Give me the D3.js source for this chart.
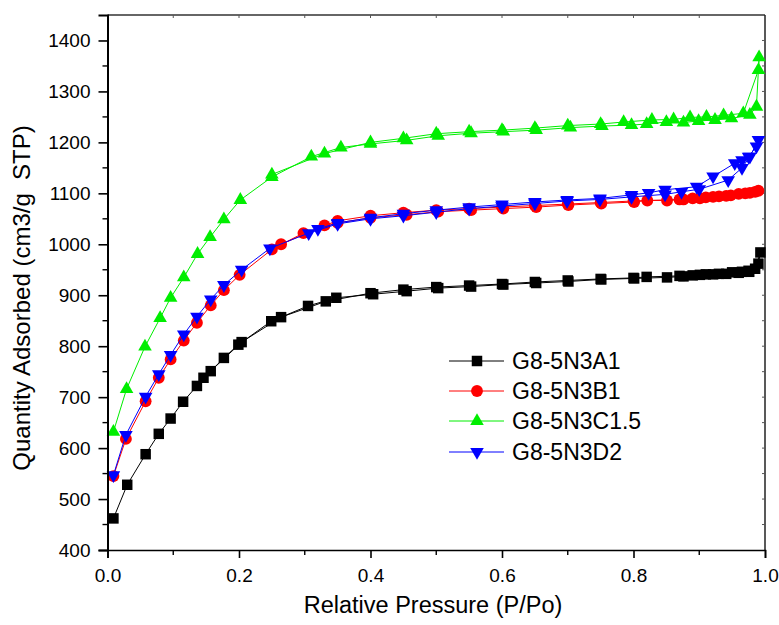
<!DOCTYPE html>
<html>
<head>
<meta charset="utf-8">
<script src="https://cdn.jsdelivr.net/npm/d3@7"></script>
<style>
  body { margin: 0; background: #fff; }
  svg { display: block; font-family: "Liberation Sans", Arial, sans-serif; }
</style>
</head>
<body>
<div id="chart"></div>
<script>
// ---- data ----
// each series: adsorption branch then desorption branch, in measurement order
const seriesNames = ["G8-5N3A1", "G8-5N3B1", "G8-5N3C1.5", "G8-5N3D2"];
const seriesColors = ["#000000", "#ff0000", "#00ee00", "#0000ff"];
const seriesShapes = ["square", "circle", "triangle", "down"];

const pA1 = [0.009,0.030,0.058,0.078,0.096,0.115,0.136,0.157,0.177,0.199,0.249,0.305,0.348,0.404,0.455,0.503,0.553,0.602,0.652,0.701,0.751,0.801,0.851,0.876,0.901,0.921,0.941,0.960,0.976,0.990,
             0.993,0.985,0.975,0.965,0.950,0.930,0.910,0.890,0.870,0.820,0.800,0.750,0.700,0.650,0.600,0.550,0.500,0.450,0.400,0.332,0.264,0.204,0.146];
const vA1 = [462,528,588,628,658,691,722,751,777,803,849,879,895,902,908,914,917,921,924,927,931,933,935,937,940,941,942,944,946,962,
             984,952,948,946,945,942,941,939,938,936,934,932,929,926,922,919,916,911,904,888,857,808,738];

const pB1 = [0.009,0.028,0.058,0.078,0.096,0.116,0.136,0.157,0.177,0.201,0.250,0.298,0.350,0.400,0.455,0.503,0.553,0.602,0.652,0.701,0.751,0.801,0.821,0.851,0.876,0.901,0.921,0.941,0.960,0.977,0.990,
             0.985,0.970,0.948,0.930,0.910,0.890,0.870,0.800,0.750,0.700,0.650,0.600,0.550,0.500,0.450,0.400,0.350,0.330,0.264];
const vB1 = [545,618,692,738,774,811,846,880,910,940,990,1022,1042,1052,1058,1064,1067,1070,1073,1077,1080,1083,1086,1086,1088,1090,1093,1095,1099,1101,1105,
             1103,1100,1096,1094,1092,1090,1088,1085,1082,1079,1076,1073,1070,1067,1062,1056,1046,1037,1000];

const pC15 = [0.009,0.029,0.057,0.080,0.096,0.116,0.137,0.156,0.177,0.202,0.250,0.310,0.355,0.400,0.455,0.503,0.553,0.602,0.652,0.704,0.752,0.797,0.820,0.850,0.876,0.899,0.924,0.949,0.977,0.987,0.991,
              0.990,0.967,0.937,0.911,0.886,0.861,0.828,0.785,0.750,0.700,0.650,0.600,0.550,0.500,0.450,0.400,0.330,0.250];
const vC15 = [632,716,799,855,895,935,981,1014,1049,1087,1132,1172,1190,1197,1204,1213,1218,1221,1224,1229,1232,1234,1236,1240,1239,1242,1244,1247,1254,1270,1367,
              1342,1257,1253,1250,1249,1245,1244,1240,1236,1233,1228,1224,1221,1217,1208,1200,1178,1137];

const pD2 = [0.009,0.028,0.058,0.078,0.096,0.116,0.136,0.157,0.177,0.204,0.247,0.306,0.350,0.400,0.450,0.500,0.550,0.600,0.650,0.699,0.749,0.797,0.848,0.873,0.900,0.944,0.965,0.977,0.990,
             0.987,0.975,0.965,0.954,0.921,0.896,0.848,0.823,0.797,0.749,0.699,0.650,0.600,0.550,0.500,0.450,0.400,0.350,0.320];
const vD2 = [547,626,701,745,783,823,858,892,920,950,992,1022,1040,1050,1056,1063,1070,1075,1080,1085,1088,1093,1098,1103,1108,1126,1150,1172,1205,
             1192,1172,1165,1159,1133,1113,1107,1101,1097,1090,1087,1083,1078,1073,1067,1060,1052,1042,1030];

const xTicks = [0.0, 0.2, 0.4, 0.6, 0.8, 1.0];
const yTicks = [400, 500, 600, 700, 800, 900, 1000, 1100, 1200, 1300, 1400];

const pArrs = [pA1, pB1, pC15, pD2];
const vArrs = [vA1, vB1, vC15, vD2];

// ---- layout ----
const W = 779, H = 625;
const mLeft = 107.5, mRight = 765, mTop = 15, mBottom = 550;
const FONT = "Liberation Sans, Arial, sans-serif";

const svg = d3.select("#chart").append("svg")
  .attr("width", W).attr("height", H);

const x = d3.scaleLinear().domain([0, 1]).range([mLeft, mRight]);
const y = d3.scaleLinear().domain([400, 1450]).range([mBottom, mTop]);

function symbolPath(shape) {
  if (shape === "square") return d3.symbol(d3.symbolSquare, 110)();
  if (shape === "circle") return d3.symbol(d3.symbolCircle, 110)();
  return d3.symbol(d3.symbolTriangle, 80)();
}

// frame top and right with small inner ticks
svg.append("line").attr("x1", mLeft).attr("x2", mRight).attr("y1", mTop).attr("y2", mTop)
  .attr("stroke", "#333").attr("stroke-width", 1.3);
svg.append("line").attr("x1", mRight).attr("x2", mRight).attr("y1", mTop).attr("y2", mBottom)
  .attr("stroke", "#222").attr("stroke-width", 1.5);
svg.append("g").selectAll("line").data(d3.range(0.1, 1.0, 0.1))
  .enter().append("line")
  .attr("x1", d => x(d)).attr("x2", d => x(d)).attr("y1", mTop).attr("y2", mTop + 3)
  .attr("stroke", "#555").attr("stroke-width", 1);
svg.append("g").selectAll("line").data(d3.range(450, 1450, 50))
  .enter().append("line")
  .attr("x1", mRight).attr("x2", mRight - 3).attr("y1", d => y(d)).attr("y2", d => y(d))
  .attr("stroke", "#555").attr("stroke-width", 1);

// series
const line = d3.line().x(d => x(d[0])).y(d => y(d[1]));
seriesNames.forEach(function (name, i) {
  const pts = pArrs[i].map((p, k) => [p, vArrs[i][k]]);
  const g = svg.append("g");
  g.append("path").datum(pts)
    .attr("d", line)
    .attr("fill", "none")
    .attr("stroke", seriesColors[i])
    .attr("stroke-width", 1);
  g.selectAll("path.m").data(pts).enter().append("path")
    .attr("class", "m")
    .attr("d", symbolPath(seriesShapes[i]))
    .attr("fill", seriesColors[i])
    .attr("transform", d => `translate(${x(d[0])},${y(d[1])})` + (seriesShapes[i] === "down" ? " rotate(180)" : ""));
});

// axes
const xAxis = svg.append("g")
  .attr("transform", `translate(0,${mBottom})`)
  .call(d3.axisBottom(x).tickValues(xTicks).tickFormat(d3.format(".1f")).tickSize(8).tickPadding(11));
xAxis.attr("font-size", 19).attr("font-family", FONT);
xAxis.select(".domain").attr("stroke-width", 1.6);
xAxis.selectAll(".tick line").attr("stroke-width", 1.6);
xAxis.selectAll("text").attr("fill", "#000");
svg.append("g").selectAll("line").data([0.1, 0.3, 0.5, 0.7, 0.9])
  .enter().append("line")
  .attr("x1", d => x(d)).attr("x2", d => x(d)).attr("y1", mBottom).attr("y2", mBottom + 5)
  .attr("stroke", "#000").attr("stroke-width", 1.4);

const yAxis = svg.append("g")
  .attr("transform", `translate(${mLeft},0)`)
  .call(d3.axisLeft(y).tickValues(yTicks).tickFormat(d3.format("d")).tickSize(9).tickPadding(8));
yAxis.attr("font-size", 19).attr("font-family", FONT);
yAxis.select(".domain").attr("stroke-width", 2);
yAxis.selectAll(".tick line").attr("stroke-width", 1.6);
yAxis.selectAll("text").attr("fill", "#000");
svg.append("g").selectAll("line").data(d3.range(450, 1450, 100))
  .enter().append("line")
  .attr("x1", mLeft).attr("x2", mLeft - 5).attr("y1", d => y(d)).attr("y2", d => y(d))
  .attr("stroke", "#000").attr("stroke-width", 1.4);

// axis titles
svg.append("text")
  .attr("x", 433).attr("y", 613)
  .attr("text-anchor", "middle")
  .attr("font-size", 23.5)
  .text("Relative Pressure (P/Po)");
svg.append("text")
  .attr("transform", "translate(30,298) rotate(-90)")
  .attr("text-anchor", "middle")
  .attr("font-size", 24)
  .style("white-space", "pre")
  .text("Quantity Adsorbed (cm3/g  STP)");

// legend
const legY = [361, 391, 421, 452];
const leg = svg.append("g");
seriesNames.forEach(function (name, i) {
  const row = leg.append("g").attr("transform", `translate(0,${legY[i]})`);
  row.append("line").attr("x1", 449).attr("x2", 504).attr("y1", 0).attr("y2", 0)
    .attr("stroke", seriesColors[i]).attr("stroke-width", 1);
  row.append("path").attr("d", symbolPath(seriesShapes[i]))
    .attr("fill", seriesColors[i])
    .attr("transform", "translate(477,0)" + (seriesShapes[i] === "down" ? " rotate(180)" : ""));
  row.append("text").attr("x", 512).attr("y", 8)
    .attr("font-size", 23).text(name);
});
</script>
</body>
</html>
